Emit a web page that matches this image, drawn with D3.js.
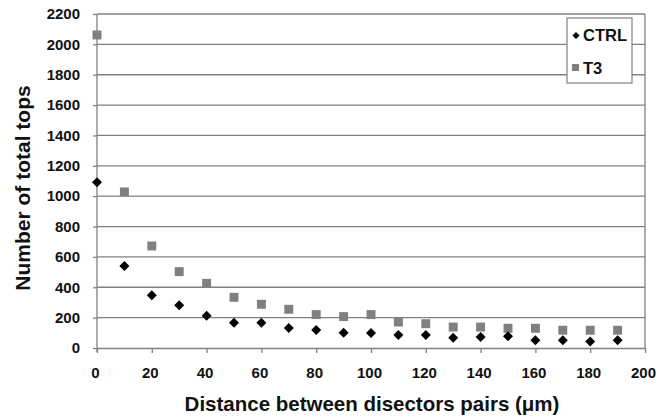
<!DOCTYPE html>
<html><head><meta charset="utf-8">
<script src="https://cdn.jsdelivr.net/npm/d3@7"></script>
<style>body{margin:0;background:#fff}svg{display:block;font-family:"Liberation Sans",Arial,sans-serif}</style>
</head><body>
<svg id="c" width="671" height="419"></svg>
<script>
const distances = [0,10,20,30,40,50,60,70,80,90,100,110,120,130,140,150,160,170,180,190];
const ctrl = [1092,540,347,281,213,167,167,132,119,101,99,86,86,68,72,77,51,51,42,51];
const t3 = [2062,1028,672,503,426,334,288,255,220,207,220,171,160,138,138,130,130,117,117,117];
const xTicks = [0,20,40,60,80,100,120,140,160,180,200];
const yTicks = [0,200,400,600,800,1000,1200,1400,1600,1800,2000,2200];
const seriesNames = ["CTRL","T3"];

const svg = d3.select("#c");
const L=97, R=645, T=14, B=348;
const x = d3.scaleLinear().domain([0,200]).range([L,R]);
const y = d3.scaleLinear().domain([0,2200]).range([B,T]);
const grid="#808080";
const ink="#111";

// gridlines
svg.append("g").selectAll("line").data(yTicks.filter(d=>d>0)).join("line")
  .attr("x1",L).attr("x2",R).attr("y1",d=>y(d)).attr("y2",d=>y(d))
  .attr("stroke",grid).attr("stroke-width",1.3);
// right border
svg.append("line").attr("x1",R).attr("x2",R).attr("y1",T).attr("y2",B).attr("stroke",grid).attr("stroke-width",1.3);

// y axis
const ya = svg.append("g").attr("transform",`translate(${L},0)`)
  .call(d3.axisLeft(y).tickValues(yTicks).tickFormat(d3.format("d")).tickSize(4).tickSizeOuter(0).tickPadding(13));
// x axis
const xa = svg.append("g").attr("transform",`translate(0,${B})`)
  .call(d3.axisBottom(x).tickValues(xTicks).tickFormat(d3.format("d")).tickSize(5).tickSizeOuter(0).tickPadding(17));
[ya,xa].forEach(a=>{
  a.selectAll("path,line").attr("stroke",grid).attr("stroke-width",1.3);
  a.selectAll("text").attr("font-size",15).attr("font-weight","bold").attr("fill",ink).attr("font-family","Liberation Sans, Arial, sans-serif");
});
xa.selectAll("text").attr("dx",-2).attr("dy","0.55em");
ya.select(".domain").attr("d",`M0,${T}V${B+4}`);

// titles
svg.append("text").attr("x",372).attr("y",411).attr("text-anchor","middle")
  .attr("font-size",20.5).attr("font-weight","bold").attr("fill",ink)
  .text("Distance between disectors pairs (\u03bcm)");
svg.append("text").attr("transform","translate(30,188) rotate(-90)").attr("text-anchor","middle")
  .attr("font-size",21).attr("font-weight","bold").attr("fill",ink)
  .text("Number of total tops");

// markers
svg.append("g").selectAll("path").data(distances.map((d,i)=>[d,t3[i]])).join("path")
  .attr("d",d3.symbol().type(d3.symbolSquare).size(80)())
  .attr("transform",d=>`translate(${x(d[0])},${y(d[1])})`).attr("fill","#808080");
svg.append("g").selectAll("path").data(distances.map((d,i)=>[d,ctrl[i]])).join("path")
  .attr("d",d3.symbol().type(d3.symbolSquare).size(50)())
  .attr("transform",d=>`translate(${x(d[0])},${y(d[1])}) rotate(45)`).attr("fill","#000");

// legend
const lg = svg.append("g");
lg.append("rect").attr("x",567).attr("y",18).attr("width",65).attr("height",65)
  .attr("fill","#fff").attr("stroke",grid).attr("stroke-width",1.2);
lg.append("path").attr("d",d3.symbol().type(d3.symbolSquare).size(26)())
  .attr("transform","translate(576,35.5) rotate(45)").attr("fill","#000");
lg.append("rect").attr("x",572).attr("y",64).attr("width",7).attr("height",7).attr("fill","#808080");
lg.append("text").attr("x",583).attr("y",41).attr("font-size",16.5).attr("font-weight","bold").attr("fill",ink).text(seriesNames[0]);
lg.append("text").attr("x",583).attr("y",73.5).attr("font-size",16.5).attr("font-weight","bold").attr("fill",ink).text(seriesNames[1]);
</script>
</body></html>
